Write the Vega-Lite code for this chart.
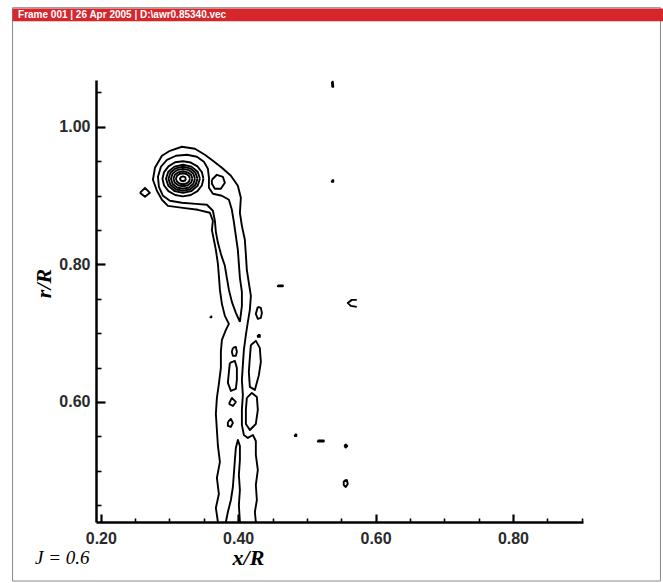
{
"$schema": "https://vega.github.io/schema/vega-lite/v6.json",
"width": 487, "height": 442,
"autosize": {"type": "none"},
"padding": {"left": 96, "top": 80, "right": 80, "bottom": 61},
"background": "white",
"config": {"view": {"stroke": null}, "axis": {"grid": false}},
"resolve": {"axis": {"x": "independent", "y": "independent"}},
"layer": [
{"data": {"values": [{"k": "frame"}]},
 "mark": {"type": "rect", "filled": false, "stroke": "#8a8a8a", "strokeWidth": 1},
 "encoding": {
  "x": {"datum": 0.0715, "type": "quantitative", "scale": {"domain": [0.193, 0.902], "nice": false, "zero": false},
        "axis": {"orient": "bottom", "values": [0.25,0.3,0.35,0.45,0.5,0.55,0.65,0.7,0.75,0.85,0.9], "labels": false, "domain": false, "grid": false, "tickSize": -4, "tickWidth": 1.6, "tickColor": "black", "title": null}},
  "x2": {"datum": 1.0148},
  "y": {"datum": 0.3397, "type": "quantitative", "scale": {"domain": [0.4255, 1.068], "nice": false, "zero": false},
        "axis": {"orient": "left", "values": [0.45,0.5,0.55,0.65,0.7,0.75,0.85,0.9,0.95,1.05], "labels": false, "domain": false, "grid": false, "tickSize": -5, "tickWidth": 1.6, "tickColor": "black", "title": null}},
  "y2": {"datum": 1.1731}
 }},
{"data": {"values": [{"k": "header"}]},
 "mark": {"type": "rect", "color": "#d7262b"},
 "encoding": {
  "x": {"datum": 0.0715, "type": "quantitative", "scale": {"domain": [0.193, 0.902], "nice": false, "zero": false}, "axis": null},
  "x2": {"datum": 1.02},
  "y": {"datum": 1.1535, "type": "quantitative", "scale": {"domain": [0.4255, 1.068], "nice": false, "zero": false}, "axis": null},
  "y2": {"datum": 1.1718}
 }},
{"data": {"values": [{"label": "Frame 001 | 26 Apr 2005 | D:\\awr0.85340.vec"}]},
 "mark": {"type": "text", "align": "left", "baseline": "middle", "font": "Liberation Sans", "fontSize": 10, "fontWeight": "bold", "color": "white"},
 "encoding": {
  "x": {"datum": 0.0795, "type": "quantitative", "scale": {"domain": [0.193, 0.902], "nice": false, "zero": false}, "axis": null},
  "y": {"datum": 1.1625, "type": "quantitative", "scale": {"domain": [0.4255, 1.068], "nice": false, "zero": false}, "axis": null},
  "text": {"field": "label"}
 }},
{"data": {"values": [
{"c":"r1","i":0,"x":0.324,"y":0.9244},{"c":"r1","i":1,"x":0.3227,"y":0.9269},{"c":"r1","i":2,"x":0.3196,"y":0.928},{"c":"r1","i":3,"x":0.3165,"y":0.9269},{"c":"r1","i":4,"x":0.3152,"y":0.9244},{"c":"r1","i":5,"x":0.3165,"y":0.9219},{"c":"r1","i":6,"x":0.3196,"y":0.9208},{"c":"r1","i":7,"x":0.3227,"y":0.9219},{"c":"r1","i":8,"x":0.324,"y":0.9244},
{"c":"r2","i":0,"x":0.3298,"y":0.9244},{"c":"r2","i":1,"x":0.3284,"y":0.9284},{"c":"r2","i":2,"x":0.3247,"y":0.9313},{"c":"r2","i":3,"x":0.3196,"y":0.9324},{"c":"r2","i":4,"x":0.3145,"y":0.9313},{"c":"r2","i":5,"x":0.3108,"y":0.9284},{"c":"r2","i":6,"x":0.3094,"y":0.9244},{"c":"r2","i":7,"x":0.3108,"y":0.9204},{"c":"r2","i":8,"x":0.3145,"y":0.9175},{"c":"r2","i":9,"x":0.3196,"y":0.9164},{"c":"r2","i":10,"x":0.3247,"y":0.9175},{"c":"r2","i":11,"x":0.3284,"y":0.9204},{"c":"r2","i":12,"x":0.3298,"y":0.9244},
{"c":"r3","i":0,"x":0.3334,"y":0.9244},{"c":"r3","i":1,"x":0.3316,"y":0.9299},{"c":"r3","i":2,"x":0.3265,"y":0.9338},{"c":"r3","i":3,"x":0.3196,"y":0.9353},{"c":"r3","i":4,"x":0.3127,"y":0.9338},{"c":"r3","i":5,"x":0.3076,"y":0.9299},{"c":"r3","i":6,"x":0.3058,"y":0.9244},{"c":"r3","i":7,"x":0.3076,"y":0.9189},{"c":"r3","i":8,"x":0.3127,"y":0.915},{"c":"r3","i":9,"x":0.3196,"y":0.9135},{"c":"r3","i":10,"x":0.3265,"y":0.915},{"c":"r3","i":11,"x":0.3316,"y":0.9189},{"c":"r3","i":12,"x":0.3334,"y":0.9244},
{"c":"r4","i":0,"x":0.3371,"y":0.9244},{"c":"r4","i":1,"x":0.3348,"y":0.9317},{"c":"r4","i":2,"x":0.3284,"y":0.937},{"c":"r4","i":3,"x":0.3196,"y":0.9389},{"c":"r4","i":4,"x":0.3108,"y":0.937},{"c":"r4","i":5,"x":0.3044,"y":0.9317},{"c":"r4","i":6,"x":0.3021,"y":0.9244},{"c":"r4","i":7,"x":0.3044,"y":0.9171},{"c":"r4","i":8,"x":0.3108,"y":0.9118},{"c":"r4","i":9,"x":0.3196,"y":0.9099},{"c":"r4","i":10,"x":0.3284,"y":0.9118},{"c":"r4","i":11,"x":0.3348,"y":0.9171},{"c":"r4","i":12,"x":0.3371,"y":0.9244},
{"c":"r5","i":0,"x":0.3407,"y":0.9244},{"c":"r5","i":1,"x":0.3379,"y":0.9332},{"c":"r5","i":2,"x":0.3302,"y":0.9396},{"c":"r5","i":3,"x":0.3196,"y":0.9419},{"c":"r5","i":4,"x":0.309,"y":0.9396},{"c":"r5","i":5,"x":0.3013,"y":0.9332},{"c":"r5","i":6,"x":0.2985,"y":0.9244},{"c":"r5","i":7,"x":0.3013,"y":0.9156},{"c":"r5","i":8,"x":0.309,"y":0.9092},{"c":"r5","i":9,"x":0.3196,"y":0.9069},{"c":"r5","i":10,"x":0.3302,"y":0.9092},{"c":"r5","i":11,"x":0.3379,"y":0.9156},{"c":"r5","i":12,"x":0.3407,"y":0.9244},
{"c":"r6","i":0,"x":0.3443,"y":0.9244},{"c":"r6","i":1,"x":0.341,"y":0.9346},{"c":"r6","i":2,"x":0.332,"y":0.9421},{"c":"r6","i":3,"x":0.3196,"y":0.9448},{"c":"r6","i":4,"x":0.3072,"y":0.9421},{"c":"r6","i":5,"x":0.2982,"y":0.9346},{"c":"r6","i":6,"x":0.2949,"y":0.9244},{"c":"r6","i":7,"x":0.2982,"y":0.9142},{"c":"r6","i":8,"x":0.3072,"y":0.9067},{"c":"r6","i":9,"x":0.3196,"y":0.904},{"c":"r6","i":10,"x":0.332,"y":0.9067},{"c":"r6","i":11,"x":0.341,"y":0.9142},{"c":"r6","i":12,"x":0.3443,"y":0.9244},
{"c":"r7","i":0,"x":0.3494,"y":0.9244},{"c":"r7","i":1,"x":0.3471,"y":0.9342},{"c":"r7","i":2,"x":0.3407,"y":0.9424},{"c":"r7","i":3,"x":0.331,"y":0.948},{"c":"r7","i":4,"x":0.3196,"y":0.9499},{"c":"r7","i":5,"x":0.3082,"y":0.9485},{"c":"r7","i":6,"x":0.2985,"y":0.9424},{"c":"r7","i":7,"x":0.2921,"y":0.9342},{"c":"r7","i":8,"x":0.2898,"y":0.9244},{"c":"r7","i":9,"x":0.2921,"y":0.9146},{"c":"r7","i":10,"x":0.2985,"y":0.9064},{"c":"r7","i":11,"x":0.3082,"y":0.9008},{"c":"r7","i":12,"x":0.3196,"y":0.8989},{"c":"r7","i":13,"x":0.331,"y":0.9008},{"c":"r7","i":14,"x":0.3407,"y":0.9064},{"c":"r7","i":15,"x":0.3471,"y":0.9146},{"c":"r7","i":16,"x":0.3494,"y":0.9244},
{"c":"L2","i":0,"x":0.4025,"y":0.7164},{"c":"L2","i":1,"x":0.3966,"y":0.7295},{"c":"L2","i":2,"x":0.3908,"y":0.7455},{"c":"L2","i":3,"x":0.3865,"y":0.7629},{"c":"L2","i":4,"x":0.3835,"y":0.7804},{"c":"L2","i":5,"x":0.3806,"y":0.7979},{"c":"L2","i":6,"x":0.3748,"y":0.8153},{"c":"L2","i":7,"x":0.3705,"y":0.8313},{"c":"L2","i":8,"x":0.3675,"y":0.8473},{"c":"L2","i":9,"x":0.3661,"y":0.8633},{"c":"L2","i":10,"x":0.3632,"y":0.8779},{"c":"L2","i":11,"x":0.3545,"y":0.8866},{"c":"L2","i":12,"x":0.3385,"y":0.888},{"c":"L2","i":13,"x":0.3181,"y":0.8895},{"c":"L2","i":14,"x":0.3006,"y":0.8924},{"c":"L2","i":15,"x":0.2905,"y":0.8997},{"c":"L2","i":16,"x":0.2846,"y":0.9128},{"c":"L2","i":17,"x":0.2832,"y":0.9273},{"c":"L2","i":18,"x":0.2875,"y":0.9419},{"c":"L2","i":19,"x":0.2963,"y":0.952},{"c":"L2","i":20,"x":0.3094,"y":0.9579},{"c":"L2","i":21,"x":0.3254,"y":0.9593},{"c":"L2","i":22,"x":0.3399,"y":0.9564},{"c":"L2","i":23,"x":0.3501,"y":0.9491},{"c":"L2","i":24,"x":0.3559,"y":0.939},{"c":"L2","i":25,"x":0.3574,"y":0.9259},{"c":"L2","i":26,"x":0.3574,"y":0.9113},{"c":"L2","i":27,"x":0.3632,"y":0.9026},{"c":"L2","i":28,"x":0.3763,"y":0.8997},{"c":"L2","i":29,"x":0.3865,"y":0.8939},{"c":"L2","i":30,"x":0.3908,"y":0.8793},{"c":"L2","i":31,"x":0.3937,"y":0.8619},{"c":"L2","i":32,"x":0.3966,"y":0.8415},{"c":"L2","i":33,"x":0.3995,"y":0.8211},{"c":"L2","i":34,"x":0.401,"y":0.8008},{"c":"L2","i":35,"x":0.4025,"y":0.7804},{"c":"L2","i":36,"x":0.4054,"y":0.76},{"c":"L2","i":37,"x":0.4054,"y":0.7397},{"c":"L2","i":38,"x":0.4025,"y":0.7164},
{"c":"L1","i":0,"x":0.3705,"y":0.4255},{"c":"L1","i":1,"x":0.3675,"y":0.4459},{"c":"L1","i":2,"x":0.3719,"y":0.4662},{"c":"L1","i":3,"x":0.369,"y":0.4895},{"c":"L1","i":4,"x":0.3734,"y":0.5128},{"c":"L1","i":5,"x":0.3705,"y":0.536},{"c":"L1","i":6,"x":0.369,"y":0.5593},{"c":"L1","i":7,"x":0.3675,"y":0.5826},{"c":"L1","i":8,"x":0.369,"y":0.6059},{"c":"L1","i":9,"x":0.3719,"y":0.6262},{"c":"L1","i":10,"x":0.3748,"y":0.6495},{"c":"L1","i":11,"x":0.3748,"y":0.6728},{"c":"L1","i":12,"x":0.3763,"y":0.6902},{"c":"L1","i":13,"x":0.3821,"y":0.7048},{"c":"L1","i":14,"x":0.3865,"y":0.7135},{"c":"L1","i":15,"x":0.3806,"y":0.7251},{"c":"L1","i":16,"x":0.3763,"y":0.7426},{"c":"L1","i":17,"x":0.3734,"y":0.7629},{"c":"L1","i":18,"x":0.3719,"y":0.7833},{"c":"L1","i":19,"x":0.3705,"y":0.8008},{"c":"L1","i":20,"x":0.3675,"y":0.8211},{"c":"L1","i":21,"x":0.3646,"y":0.8357},{"c":"L1","i":22,"x":0.3617,"y":0.8502},{"c":"L1","i":23,"x":0.3632,"y":0.8633},{"c":"L1","i":24,"x":0.3588,"y":0.875},{"c":"L1","i":25,"x":0.3414,"y":0.8793},{"c":"L1","i":26,"x":0.3195,"y":0.8822},{"c":"L1","i":27,"x":0.2977,"y":0.8851},{"c":"L1","i":28,"x":0.289,"y":0.8939},{"c":"L1","i":29,"x":0.2817,"y":0.907},{"c":"L1","i":30,"x":0.2759,"y":0.923},{"c":"L1","i":31,"x":0.2788,"y":0.9404},{"c":"L1","i":32,"x":0.289,"y":0.9579},{"c":"L1","i":33,"x":0.3006,"y":0.9651},{"c":"L1","i":34,"x":0.3181,"y":0.971},{"c":"L1","i":35,"x":0.337,"y":0.968},{"c":"L1","i":36,"x":0.3515,"y":0.9593},{"c":"L1","i":37,"x":0.3632,"y":0.9506},{"c":"L1","i":38,"x":0.3763,"y":0.9404},{"c":"L1","i":39,"x":0.3894,"y":0.9288},{"c":"L1","i":40,"x":0.3995,"y":0.9142},{"c":"L1","i":41,"x":0.4039,"y":0.8968},{"c":"L1","i":42,"x":0.4025,"y":0.875},{"c":"L1","i":43,"x":0.4054,"y":0.856},{"c":"L1","i":44,"x":0.4097,"y":0.8357},{"c":"L1","i":45,"x":0.4112,"y":0.8139},{"c":"L1","i":46,"x":0.4126,"y":0.792},{"c":"L1","i":47,"x":0.4155,"y":0.7731},{"c":"L1","i":48,"x":0.4185,"y":0.7542},{"c":"L1","i":49,"x":0.417,"y":0.7339},{"c":"L1","i":50,"x":0.4141,"y":0.7164},{"c":"L1","i":51,"x":0.4112,"y":0.6975},{"c":"L1","i":52,"x":0.4083,"y":0.6757},{"c":"L1","i":53,"x":0.4068,"y":0.6539},{"c":"L1","i":54,"x":0.4054,"y":0.632},{"c":"L1","i":55,"x":0.4068,"y":0.6102},{"c":"L1","i":56,"x":0.4054,"y":0.5884},{"c":"L1","i":57,"x":0.4054,"y":0.5666},{"c":"L1","i":58,"x":0.4083,"y":0.552},{"c":"L1","i":59,"x":0.4141,"y":0.5477},{"c":"L1","i":60,"x":0.4214,"y":0.552},{"c":"L1","i":61,"x":0.4257,"y":0.5433},{"c":"L1","i":62,"x":0.4257,"y":0.523},{"c":"L1","i":63,"x":0.4286,"y":0.5011},{"c":"L1","i":64,"x":0.4257,"y":0.4793},{"c":"L1","i":65,"x":0.4272,"y":0.4575},{"c":"L1","i":66,"x":0.4243,"y":0.44},{"c":"L1","i":67,"x":0.4257,"y":0.4255},
{"c":"s","i":0,"x":0.3617,"y":0.923},{"c":"s","i":1,"x":0.369,"y":0.9302},{"c":"s","i":2,"x":0.3777,"y":0.9273},{"c":"s","i":3,"x":0.3806,"y":0.9186},{"c":"s","i":4,"x":0.3748,"y":0.9099},{"c":"s","i":5,"x":0.3661,"y":0.9099},{"c":"s","i":6,"x":0.3617,"y":0.9171},{"c":"s","i":7,"x":0.3617,"y":0.923},
{"c":"d","i":0,"x":0.257,"y":0.904},{"c":"d","i":1,"x":0.2643,"y":0.9113},{"c":"d","i":2,"x":0.2715,"y":0.904},{"c":"d","i":3,"x":0.2643,"y":0.8982},{"c":"d","i":4,"x":0.257,"y":0.904},
{"c":"L2b","i":0,"x":0.3821,"y":0.4255},{"c":"L2b","i":1,"x":0.385,"y":0.44},{"c":"L2b","i":2,"x":0.3894,"y":0.4575},{"c":"L2b","i":3,"x":0.3923,"y":0.4764},{"c":"L2b","i":4,"x":0.3937,"y":0.4953},{"c":"L2b","i":5,"x":0.3952,"y":0.5157},{"c":"L2b","i":6,"x":0.3966,"y":0.5331},{"c":"L2b","i":7,"x":0.3995,"y":0.5448},{"c":"L2b","i":8,"x":0.4025,"y":0.536},{"c":"L2b","i":9,"x":0.4025,"y":0.5157},{"c":"L2b","i":10,"x":0.401,"y":0.4939},{"c":"L2b","i":11,"x":0.4025,"y":0.472},{"c":"L2b","i":12,"x":0.401,"y":0.4502},{"c":"L2b","i":13,"x":0.4025,"y":0.4255},
{"c":"o1","i":0,"x":0.3923,"y":0.6786},{"c":"o1","i":1,"x":0.3966,"y":0.68},{"c":"o1","i":2,"x":0.3981,"y":0.6728},{"c":"o1","i":3,"x":0.3966,"y":0.667},{"c":"o1","i":4,"x":0.3923,"y":0.667},{"c":"o1","i":5,"x":0.3908,"y":0.6728},{"c":"o1","i":6,"x":0.3923,"y":0.6786},
{"c":"A","i":0,"x":0.3879,"y":0.6568},{"c":"A","i":1,"x":0.3952,"y":0.6597},{"c":"A","i":2,"x":0.3981,"y":0.6495},{"c":"A","i":3,"x":0.3981,"y":0.632},{"c":"A","i":4,"x":0.3966,"y":0.6189},{"c":"A","i":5,"x":0.3894,"y":0.616},{"c":"A","i":6,"x":0.385,"y":0.6277},{"c":"A","i":7,"x":0.3865,"y":0.6437},{"c":"A","i":8,"x":0.3879,"y":0.6568},
{"c":"tri","i":0,"x":0.3865,"y":0.5971},{"c":"tri","i":1,"x":0.3908,"y":0.6059},{"c":"tri","i":2,"x":0.3966,"y":0.6},{"c":"tri","i":3,"x":0.3923,"y":0.5942},{"c":"tri","i":4,"x":0.3865,"y":0.5971},
{"c":"nine","i":0,"x":0.385,"y":0.571},{"c":"nine","i":1,"x":0.3894,"y":0.5753},{"c":"nine","i":2,"x":0.3923,"y":0.5695},{"c":"nine","i":3,"x":0.3894,"y":0.5637},{"c":"nine","i":4,"x":0.385,"y":0.5651},{"c":"nine","i":5,"x":0.385,"y":0.571},
{"c":"rO","i":0,"x":0.4286,"y":0.7382},{"c":"rO","i":1,"x":0.433,"y":0.7368},{"c":"rO","i":2,"x":0.4345,"y":0.7295},{"c":"rO","i":3,"x":0.433,"y":0.7222},{"c":"rO","i":4,"x":0.4286,"y":0.7208},{"c":"rO","i":5,"x":0.4257,"y":0.7281},{"c":"rO","i":6,"x":0.4286,"y":0.7382},
{"c":"dt1","i":0,"x":0.4286,"y":0.6975},{"c":"dt1","i":1,"x":0.4315,"y":0.6975},{"c":"dt1","i":2,"x":0.4315,"y":0.6946},{"c":"dt1","i":3,"x":0.4286,"y":0.6946},{"c":"dt1","i":4,"x":0.4286,"y":0.6975},
{"c":"R1","i":0,"x":0.4185,"y":0.6829},{"c":"R1","i":1,"x":0.4257,"y":0.6888},{"c":"R1","i":2,"x":0.4315,"y":0.6786},{"c":"R1","i":3,"x":0.433,"y":0.6582},{"c":"R1","i":4,"x":0.4301,"y":0.639},{"c":"R1","i":5,"x":0.4243,"y":0.6175},{"c":"R1","i":6,"x":0.417,"y":0.6219},{"c":"R1","i":7,"x":0.4155,"y":0.6437},{"c":"R1","i":8,"x":0.417,"y":0.664},{"c":"R1","i":9,"x":0.4185,"y":0.6829},
{"c":"R2","i":0,"x":0.4126,"y":0.6059},{"c":"R2","i":1,"x":0.4199,"y":0.6131},{"c":"R2","i":2,"x":0.4272,"y":0.6073},{"c":"R2","i":3,"x":0.4286,"y":0.5884},{"c":"R2","i":4,"x":0.4257,"y":0.568},{"c":"R2","i":5,"x":0.417,"y":0.5593},{"c":"R2","i":6,"x":0.4112,"y":0.568},{"c":"R2","i":7,"x":0.4112,"y":0.5884},{"c":"R2","i":8,"x":0.4126,"y":0.6059},
{"c":"tk","i":0,"x":0.5363,"y":1.0655},{"c":"tk","i":1,"x":0.5378,"y":1.0655},{"c":"tk","i":2,"x":0.5385,"y":1.0582},{"c":"tk","i":3,"x":0.537,"y":1.0582},{"c":"tk","i":4,"x":0.5363,"y":1.0655},
{"c":"d333","i":0,"x":0.5363,"y":0.9222},{"c":"d333","i":1,"x":0.5385,"y":0.9222},{"c":"d333","i":2,"x":0.5385,"y":0.9201},{"c":"d333","i":3,"x":0.5363,"y":0.9201},{"c":"d333","i":4,"x":0.5363,"y":0.9222},
{"c":"ds280","i":0,"x":0.4577,"y":0.7695},{"c":"ds280","i":1,"x":0.465,"y":0.7695},{"c":"ds280","i":2,"x":0.465,"y":0.7681},{"c":"ds280","i":3,"x":0.4577,"y":0.7681},{"c":"ds280","i":4,"x":0.4577,"y":0.7695},
{"c":"cc","i":0,"x":0.5726,"y":0.7484},{"c":"cc","i":1,"x":0.5654,"y":0.7484},{"c":"cc","i":2,"x":0.5595,"y":0.744},{"c":"cc","i":3,"x":0.5639,"y":0.7397},{"c":"cc","i":4,"x":0.5726,"y":0.7382},
{"c":"d296","i":0,"x":0.4825,"y":0.5527},{"c":"d296","i":1,"x":0.4847,"y":0.5527},{"c":"d296","i":2,"x":0.4847,"y":0.5505},{"c":"d296","i":3,"x":0.4825,"y":0.5505},{"c":"d296","i":4,"x":0.4825,"y":0.5527},
{"c":"ds321","i":0,"x":0.5159,"y":0.544},{"c":"ds321","i":1,"x":0.5246,"y":0.544},{"c":"ds321","i":2,"x":0.5246,"y":0.5425},{"c":"ds321","i":3,"x":0.5159,"y":0.5425},{"c":"ds321","i":4,"x":0.5159,"y":0.544},
{"c":"pl","i":0,"x":0.5545,"y":0.536},{"c":"pl","i":1,"x":0.5566,"y":0.5382},{"c":"pl","i":2,"x":0.5588,"y":0.536},{"c":"pl","i":3,"x":0.5566,"y":0.5338},{"c":"pl","i":4,"x":0.5545,"y":0.536},
{"c":"six","i":0,"x":0.5537,"y":0.4851},{"c":"six","i":1,"x":0.5581,"y":0.4866},{"c":"six","i":2,"x":0.5595,"y":0.4808},{"c":"six","i":3,"x":0.5566,"y":0.4764},{"c":"six","i":4,"x":0.5537,"y":0.4793},{"c":"six","i":5,"x":0.5537,"y":0.4851},
{"c":"d211","i":0,"x":0.3596,"y":0.7244},{"c":"d211","i":1,"x":0.361,"y":0.7244},{"c":"d211","i":2,"x":0.361,"y":0.723},{"c":"d211","i":3,"x":0.3596,"y":0.723},{"c":"d211","i":4,"x":0.3596,"y":0.7244}
]},
 "mark": {"type": "line", "color": "black", "strokeWidth": 1.9, "clip": true, "strokeJoin": "round"},
 "encoding": {
  "x": {"field": "x", "type": "quantitative", "scale": {"domain": [0.193, 0.902], "nice": false, "zero": false},
        "axis": {"orient": "bottom", "values": [0.2,0.4,0.6,0.8], "format": ".2f", "grid": false, "domainColor": "black", "domainWidth": 2.5, "tickColor": "black", "tickWidth": 2.2, "tickSize": -8, "labelFont": "Liberation Sans", "labelFontSize": 16, "labelFontWeight": "bold", "labelColor": "#2a2a2a", "labelPadding": 16, "labelFlush": false, "labelOverlap": false,
                 "title": "x/R", "titleFont": "Liberation Serif", "titleFontStyle": "italic", "titleFontWeight": "bold", "titleFontSize": 22, "titleColor": "black", "titleX": 152, "titleY": 35, "titleAlign": "center", "titleBaseline": "middle"}},
  "y": {"field": "y", "type": "quantitative", "scale": {"domain": [0.4255, 1.068], "nice": false, "zero": false},
        "axis": {"orient": "left", "values": [0.6,0.8,1.0], "format": ".2f", "grid": false, "domainColor": "black", "domainWidth": 2.5, "tickColor": "black", "tickWidth": 2.2, "tickSize": -9, "labelFont": "Liberation Sans", "labelFontSize": 16, "labelFontWeight": "bold", "labelColor": "#2a2a2a", "labelPadding": 15, "labelFlush": false, "labelOverlap": false,
                 "title": "r/R", "titleFont": "Liberation Serif", "titleFontStyle": "italic", "titleFontWeight": "bold", "titleFontSize": 22, "titleColor": "black", "titleX": -53, "titleY": 203, "titleAlign": "center", "titleBaseline": "middle"}},
  "detail": {"field": "c"},
  "order": {"field": "i"}
 }},
{"data": {"values": [{"label": "J = 0.6"}]},
 "mark": {"type": "text", "align": "left", "baseline": "alphabetic", "font": "Liberation Serif", "fontStyle": "italic", "fontSize": 19, "color": "black"},
 "encoding": {
  "x": {"datum": 0.1043, "type": "quantitative", "scale": {"domain": [0.193, 0.902], "nice": false, "zero": false}, "axis": null},
  "y": {"datum": 0.3644, "type": "quantitative", "scale": {"domain": [0.4255, 1.068], "nice": false, "zero": false}, "axis": null},
  "text": {"field": "label"}
 }}
]
}
